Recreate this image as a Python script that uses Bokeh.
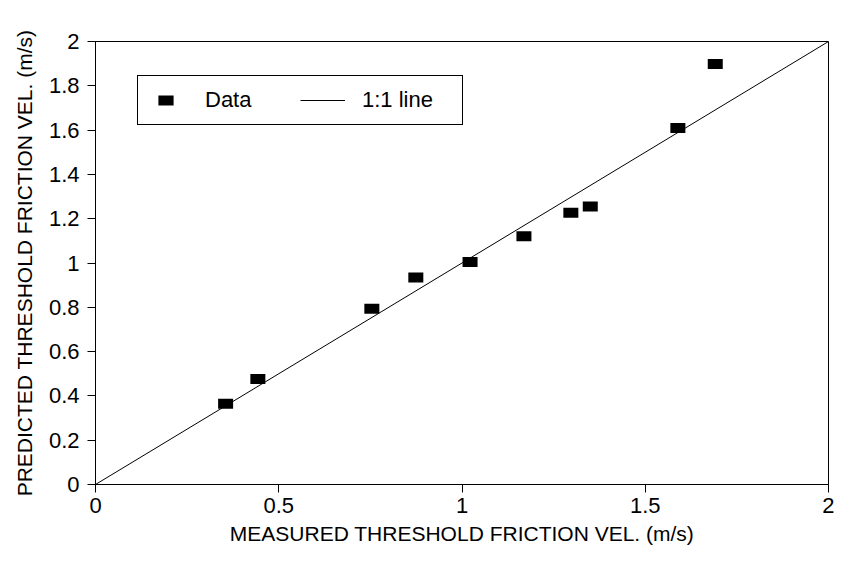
from bokeh.plotting import figure
from bokeh.models import Range1d, FixedTicker, NumeralTickFormatter, Legend, LegendItem
from bokeh.embed import file_html
from bokeh.resources import INLINE

# ---- data ----
measured = [0.355, 0.443, 0.754, 0.874, 1.022, 1.169, 1.297, 1.350, 1.589, 1.691]
predicted = [0.364, 0.476, 0.794, 0.935, 1.004, 1.121, 1.227, 1.255, 1.609, 1.898]
line_x = [0, 2]
line_y = [0, 2]
x_ticks = [0, 0.5, 1, 1.5, 2]
y_ticks = [0, 0.2, 0.4, 0.6, 0.8, 1, 1.2, 1.4, 1.6, 1.8, 2]
x_label = "MEASURED THRESHOLD FRICTION VEL. (m/s)"
y_label = "PREDICTED THRESHOLD FRICTION VEL. (m/s)"

FONT = "Liberation Sans"

p = figure(frame_width=733, frame_height=443,
           x_range=Range1d(0, 2), y_range=Range1d(0, 2),
           output_backend="svg", toolbar_location=None,
           min_border_left=95, min_border_right=6,
           min_border_top=41, min_border_bottom=61,
           background_fill_color="white", border_fill_color="white")
p.grid.visible = False
p.outline_line_color = "black"
p.outline_line_width = 1
p.outline_line_alpha = 1

line_r = p.line(line_x, line_y, line_color="black", line_width=1)
data_r = p.scatter(measured, predicted, marker="dash", size=15,
                   line_width=10, line_color="black")

for ax in (p.xaxis[0], p.yaxis[0]):
    ax.major_tick_in = 0
    ax.major_tick_out = 8
    ax.minor_tick_line_color = None
    ax.axis_line_color = "black"
    ax.major_tick_line_color = "black"
    ax.major_label_text_font = FONT
    ax.major_label_text_font_size = "22px"
    ax.major_label_text_color = "black"
    ax.axis_label_text_font = FONT
    ax.axis_label_text_font_size = "21px"
    ax.axis_label_text_font_style = "normal"
    ax.axis_label_text_color = "black"
    ax.formatter = NumeralTickFormatter(format="0.[0]")

p.xaxis.ticker = FixedTicker(ticks=x_ticks)
p.yaxis.ticker = FixedTicker(ticks=y_ticks)
p.xaxis.axis_label = x_label
p.yaxis.axis_label = y_label
p.xaxis.major_label_standoff = 5
p.yaxis.major_label_standoff = 8
p.xaxis.axis_label_standoff = 6
p.yaxis.axis_label_standoff = 10

legend = Legend(
    items=[LegendItem(label="Data", renderers=[data_r]),
           LegendItem(label="1:1 line", renderers=[line_r])],
    orientation="horizontal", location=(42, 359), margin=0, padding=5,
    spacing=0, glyph_width=45, glyph_height=38, label_width=95,
    label_standoff=17, border_line_color="black", border_line_width=1,
    border_line_alpha=1,
    background_fill_color="white", background_fill_alpha=1,
    label_text_font=FONT, label_text_font_size="22px",
    label_text_color="black")
p.add_layout(legend)

open("out.html", "w").write(file_html(p, INLINE))
